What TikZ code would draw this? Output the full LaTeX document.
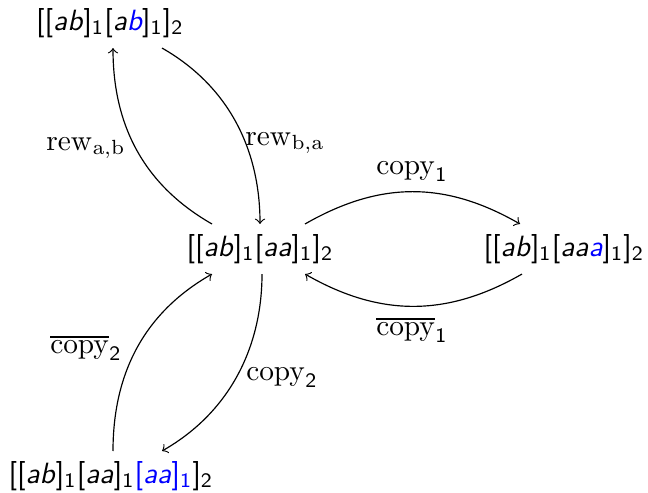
\documentclass[tikz,border=0pt]{standalone}
\usetikzlibrary{calc}
\begin{document}
\begin{tikzpicture}[x=0.341pt,y=-0.341pt,
  state/.style={font=\sffamily},
  lab/.style={inner sep=0pt},
  conn/.style={->}]
\useasboundingbox (0,0) rectangle (648,492);
% states
\node[state] (t) at (110,23) {[[\textit{ab}]\textsubscript{1}[\textit{a\textcolor{blue}{b}}]\textsubscript{1}]\textsubscript{2}};
\node[state] (c) at (260,249) {[[\textit{ab}]\textsubscript{1}[\textit{aa}]\textsubscript{1}]\textsubscript{2}};
\node[state] (r) at (564,249) {[[\textit{ab}]\textsubscript{1}[\textit{aa\textcolor{blue}{a}}]\textsubscript{1}]\textsubscript{2}};
\node[state] (b) at (111,476) {[[\textit{ab}]\textsubscript{1}[\textit{aa}]\textsubscript{1}\textcolor{blue}{[\textit{aa}]\textsubscript{1}}]\textsubscript{2}};
% labels
\node[lab] (l1) at (86,148) {$\mathrm{rew}_{\mathrm{a,b}}$};
\node[lab] (l2) at (285,143) {$\mathrm{rew}_{\mathrm{b,a}}$};
\node[lab] (l3) at (412,172) {$\mathrm{copy}_{\mathsf{1}}$};
\node[lab] (l4) at (412,330) {$\overline{\mathrm{copy}}_{\mathsf{1}}$};
\node[lab] (l5) at (282,378) {$\mathrm{copy}_{\mathsf{2}}$};
\node[lab] (l6) at (86,348) {$\overline{\mathrm{copy}}_{\mathsf{2}}$};
% connectors
\draw[conn] ($(c.north)+(-48,0)$) .. controls +(-70,-40) and +(0,75) .. ($(t.south)+(3,0)$);
\draw[conn] ($(t.south)+(52,0)$) .. controls +(70,40) and +(0,-70) .. (c.north);
\draw[conn] ($(c.north)+(45,0)$) .. controls +(75,-43) and +(-75,-43) .. ($(r.north)+(-44,0)$);
\draw[conn] ($(r.south)+(-42,0)$) .. controls +(-75,43) and +(75,43) .. ($(c.south)+(45,0)$);
\draw[conn] ($(c.south)+(2,0)$) .. controls +(0,70) and +(70,-40) .. ($(b.north)+(51,0)$);
\draw[conn] ($(b.north)+(2,0)$) .. controls +(0,-75) and +(-70,40) .. ($(c.south)+(-48,0)$);
\end{tikzpicture}
\end{document}
